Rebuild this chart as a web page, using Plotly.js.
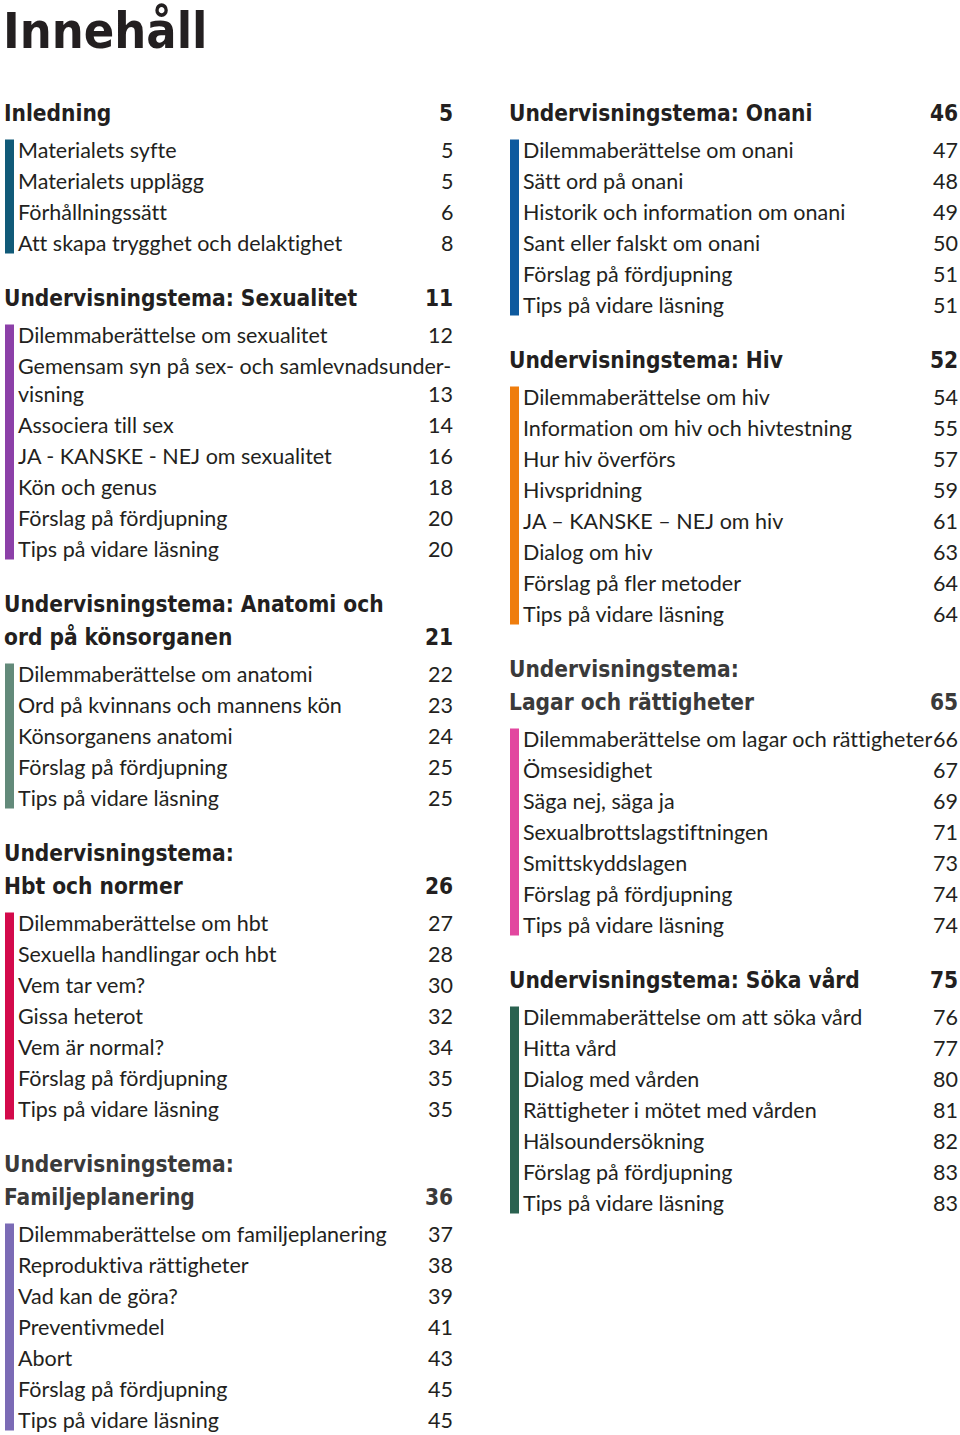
<!DOCTYPE html>
<html><head><meta charset="utf-8">
<script src="https://cdn.plot.ly/plotly-3.0.1.min.js"></script>
<style>html,body{margin:0;padding:0;background:#fff} text{font-variant-ligatures:none;font-feature-settings:"liga" 0,"clig" 0;}</style>
</head><body><div id="chart" style="width:960px;height:1435px"></div>
<script>
// ---------- DATA ----------
const pageTitle = "Innehåll";

const sectionTitles = [
  "Inledning",
  "Undervisningstema: Sexualitet",
  "Undervisningstema: Anatomi och\nord på könsorganen",
  "Undervisningstema:\nHbt och normer",
  "Undervisningstema:\nFamiljeplanering",
  "Undervisningstema: Onani",
  "Undervisningstema: Hiv",
  "Undervisningstema:\nLagar och rättigheter",
  "Undervisningstema: Söka vård"
];
const sectionPages = [5, 11, 21, 26, 36, 46, 52, 65, 75];

const inledningItems = ["Materialets syfte", "Materialets upplägg", "Förhållningssätt", "Att skapa trygghet och delaktighet"];
const inledningPages = [5, 5, 6, 8];

const sexualitetItems = ["Dilemmaberättelse om sexualitet", "Gemensam syn på sex- och samlevnadsunder-\nvisning", "Associera till sex", "JA - KANSKE - NEJ om sexualitet", "Kön och genus", "Förslag på fördjupning", "Tips på vidare läsning"];
const sexualitetPages = [12, 13, 14, 16, 18, 20, 20];

const anatomiItems = ["Dilemmaberättelse om anatomi", "Ord på kvinnans och mannens kön", "Könsorganens anatomi", "Förslag på fördjupning", "Tips på vidare läsning"];
const anatomiPages = [22, 23, 24, 25, 25];

const hbtItems = ["Dilemmaberättelse om hbt", "Sexuella handlingar och hbt", "Vem tar vem?", "Gissa heterot", "Vem är normal?", "Förslag på fördjupning", "Tips på vidare läsning"];
const hbtPages = [27, 28, 30, 32, 34, 35, 35];

const familjItems = ["Dilemmaberättelse om familjeplanering", "Reproduktiva rättigheter", "Vad kan de göra?", "Preventivmedel", "Abort", "Förslag på fördjupning", "Tips på vidare läsning"];
const familjPages = [37, 38, 39, 41, 43, 45, 45];

const onaniItems = ["Dilemmaberättelse om onani", "Sätt ord på onani", "Historik och information om onani", "Sant eller falskt om onani", "Förslag på fördjupning", "Tips på vidare läsning"];
const onaniPages = [47, 48, 49, 50, 51, 51];

const hivItems = ["Dilemmaberättelse om hiv", "Information om hiv och hivtestning", "Hur hiv överförs", "Hivspridning", "JA – KANSKE – NEJ om hiv", "Dialog om hiv", "Förslag på fler metoder", "Tips på vidare läsning"];
const hivPages = [54, 55, 57, 59, 61, 63, 64, 64];

const lagarItems = ["Dilemmaberättelse om lagar och rättigheter", "Ömsesidighet", "Säga nej, säga ja", "Sexualbrottslagstiftningen", "Smittskyddslagen", "Förslag på fördjupning", "Tips på vidare läsning"];
const lagarPages = [66, 67, 69, 71, 73, 74, 74];

const sokaItems = ["Dilemmaberättelse om att söka vård", "Hitta vård", "Dialog med vården", "Rättigheter i mötet med vården", "Hälsoundersökning", "Förslag på fördjupning", "Tips på vidare läsning"];
const sokaPages = [76, 77, 80, 81, 82, 83, 83];

// ---------- STYLE / LAYOUT ----------
const barColors = ["#115a78", "#8c40a8", "#638a7a", "#d30a4b", "#7b6bb5", "#0e5a9e", "#ef7d0d", "#e2479f", "#2a6250"];
const headColors = ["#231f20", "#231f20", "#231f20", "#231f20", "#3a3a3a", "#231f20", "#231f20", "#3a3a3a", "#231f20"];
const sectionItems = [inledningItems, sexualitetItems, anatomiItems, hbtItems, familjItems, onaniItems, hivItems, lagarItems, sokaItems];
const sectionItemPages = [inledningPages, sexualitetPages, anatomiPages, hbtPages, familjPages, onaniPages, hivPages, lagarPages, sokaPages];
const columns = [
  {sections: [0, 1, 2, 3, 4], xHead: 2, xItem: 16, xRight: 455, xBar: 5},
  {sections: [5, 6, 7, 8], xHead: 507, xItem: 521, xRight: 960, xBar: 510}
];
const HEAD_FAMILY = "'Liberation Sans Narrow', 'Arial Narrow', 'DejaVu Sans Condensed', sans-serif";
const HEAD_FONT = {family: HEAD_FAMILY, size: 22.5, weight: 700};
const BODY_FONT = {family: "Lato, 'Open Sans', sans-serif", size: 21.5, color: "#231f20"};
const TOP = 113, HEAD_LINE = 33, HEAD_TO_ITEM = 36.5, ITEM_STEP = 31, WRAP_STEP = 28, SECTION_GAP = 55.5, BAR_W = 9, BAR_UP = 10, BAR_DOWN = 11;

const annotations = [];
const shapes = [];
function txt(x, y, text, font, anchor) {
  annotations.push({x: x, y: y, xref: 'x', yref: 'y', text: text, showarrow: false,
    xanchor: anchor, yanchor: 'middle', font: font, align: anchor});
}
annotations.push({x: 1, y: 31, xref: 'x', yref: 'y', text: pageTitle, showarrow: false, xanchor: 'left', yanchor: 'middle',
  font: {family: HEAD_FAMILY, size: 50, weight: 700, color: "#231f20"}});

columns.forEach(col => {
  let y = TOP;
  col.sections.forEach((s, k) => {
    if (k > 0) y += SECTION_GAP;
    const hf = Object.assign({}, HEAD_FONT, {color: headColors[s]});
    const lines = sectionTitles[s].split("\n");
    lines.forEach((ln, i) => {
      if (i > 0) y += HEAD_LINE;
      txt(col.xHead, y, ln, hf, 'left');
    });
    txt(col.xRight, y, String(sectionPages[s]), hf, 'right');
    y += HEAD_TO_ITEM;
    const first = y;
    sectionItems[s].forEach((item, j) => {
      if (j > 0) y += ITEM_STEP;
      const il = item.split("\n");
      il.forEach((ln, i) => {
        if (i > 0) y += WRAP_STEP;
        txt(col.xItem, y, ln, BODY_FONT, 'left');
      });
      txt(col.xRight, y, String(sectionItemPages[s][j]), BODY_FONT, 'right');
    });
    shapes.push({type: 'rect', xref: 'x', yref: 'y', x0: col.xBar, x1: col.xBar + BAR_W,
      y0: first - BAR_UP, y1: y + BAR_DOWN, fillcolor: barColors[s], line: {width: 0}, layer: 'below'});
  });
});

const layout = {
  width: 960, height: 1435, margin: {l: 0, r: 0, t: 0, b: 0},
  paper_bgcolor: '#ffffff', plot_bgcolor: '#ffffff', showlegend: false,
  xaxis: {range: [0, 960], visible: false, fixedrange: true},
  yaxis: {range: [1435, 0], visible: false, fixedrange: true},
  annotations: annotations, shapes: shapes
};
Plotly.newPlot('chart', [{x: [], y: [], type: 'scatter', mode: 'markers', hoverinfo: 'skip'}], layout, {staticPlot: true, displayModeBar: false});
</script></body></html>
